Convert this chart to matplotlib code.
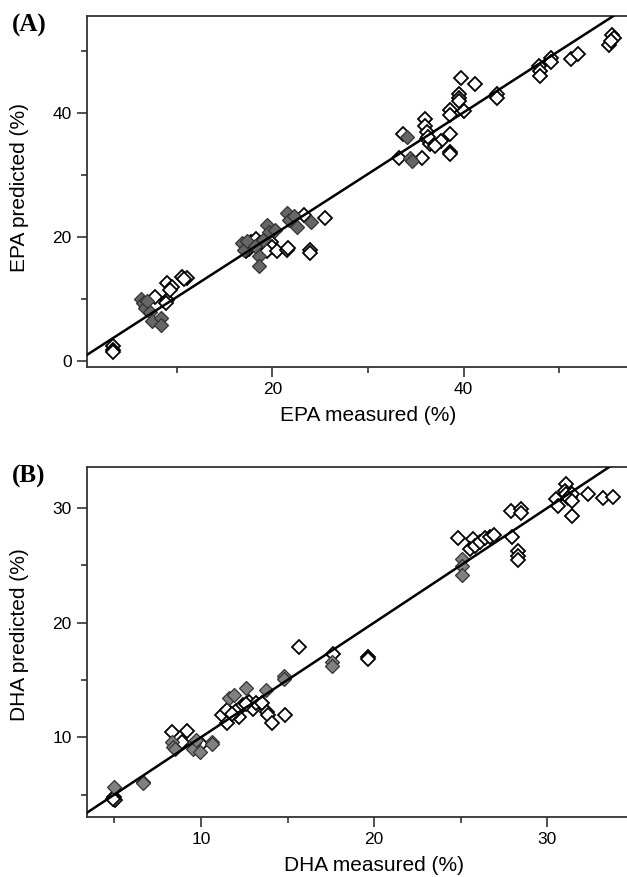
import matplotlib
matplotlib.use("Agg")
import matplotlib.pyplot as plt
import numpy as np

# ---------------- Data ----------------
# Panel A: EPA
epa_gray_x = [6.2, 6.5, 6.7, 7.2, 7.4, 8.3, 8.3, 6.9,
              16.8, 17.0, 17.3, 18.6, 18.6, 18.2, 19.4, 19.6, 20.3, 21.5, 21.7, 22.3, 22.6, 24.0, 19.0,
              34.35, 34.6, 34.1]
epa_gray_y = [10.0, 9.3, 8.5, 7.8, 6.3, 6.8, 5.8, 9.6,
              18.9, 17.9, 19.3, 16.8, 15.3, 18.5, 21.9, 20.8, 21.1, 23.8, 22.7, 23.3, 21.6, 22.4, 19.5,
              32.7, 32.2, 36.0]
epa_open_x = [3.3, 3.3, 3.3,
              7.75, 9.0, 8.9, 9.0, 9.5, 9.3, 10.5, 11.05, 10.8,
              17.5, 17.8, 18.05, 18.3, 18.7, 19.2, 19.5, 19.8, 20.0, 19.4, 20.5, 21.5, 21.6, 23.3, 25.5, 23.9, 23.9, 17.2,
              33.2, 35.6, 33.7, 36.0, 36.0, 36.2, 36.2, 36.5, 37.6, 38.6, 38.6, 38.6, 37.0, 36.3,
              38.6, 38.6, 40.0, 39.5, 39.5, 39.5, 39.7, 41.2, 43.5, 43.5,
              47.85, 48.0, 48.0, 49.1, 49.1, 51.2, 52.0, 55.2, 55.5, 55.7, 55.4]
epa_open_y = [2.3, 1.7, 1.4,
              10.3, 9.8, 9.2, 12.5, 11.9, 11.3, 13.5, 13.3, 13.1,
              18.0, 19.2, 18.9, 19.6, 19.0, 18.6, 18.0, 19.2, 18.3, 17.7, 17.7, 17.9, 18.1, 23.5, 23.0, 17.9, 17.4, 17.6,
              32.7, 32.7, 36.5, 38.9, 37.9, 36.8, 35.7, 34.9, 35.4, 36.5, 33.7, 33.3, 34.6, 36.0,
              40.5, 39.7, 40.3, 43.0, 42.4, 41.9, 45.6, 44.6, 43.0, 42.4,
              47.5, 46.7, 45.9, 48.9, 48.1, 48.6, 49.4, 51.0, 52.6, 52.1, 51.5]
epa_fit = [0.993, 0.32]  # slope, intercept

# Panel B: DHA
dha_gray_x = [4.97, 6.66, 6.66, 8.33, 8.4, 8.5, 9.58, 9.55, 9.93, 9.7, 10.64, 10.64,
              11.6, 11.9, 12.6, 13.78, 14.78, 14.78,
              17.57, 17.57,
              25.06, 25.06, 25.06]
dha_gray_y = [5.69, 6.13, 6.0, 9.62, 9.18, 9.0, 9.47, 9.0, 8.75, 9.76, 9.6, 9.4,
              13.4, 13.7, 14.3, 14.1, 15.35, 15.05,
              16.6, 16.2,
              25.53, 24.95, 24.14]
dha_open_x = [5.0, 5.05, 4.95,
              8.33, 9.2, 8.9, 10.0,
              11.2, 11.5, 11.5, 12.2, 12.0, 12.4, 12.8, 13.0, 13.2, 13.5, 13.8, 13.85, 14.1, 14.87, 11.8, 12.6,
              15.65, 17.6, 19.65, 19.65,
              24.86, 25.73, 25.54, 25.83, 26.1, 26.4, 26.7, 26.9,
              27.9, 28.5, 28.5, 27.95, 28.3, 28.3, 28.3,
              31.1, 31.0, 31.1, 31.3, 31.4, 31.2, 30.5, 30.6, 31.4, 31.4, 32.37, 33.2, 33.8]
dha_open_y = [4.82, 4.53, 4.6,
              10.5, 10.58, 9.6, 9.4,
              11.94, 12.38, 11.2, 11.8, 12.3, 12.8, 13.1, 12.5, 13.0, 13.0, 12.2, 11.95, 11.2, 11.95, 12.0, 12.9,
              17.85, 17.27, 17.03, 16.8,
              27.36, 27.28, 26.4, 26.7, 27.04, 27.4, 27.5, 27.6,
              29.75, 29.9, 29.6, 27.5, 26.26, 25.8, 25.5,
              32.08, 31.5, 31.2, 31.0, 31.2, 30.9, 30.77, 30.18, 29.3, 30.6, 31.2, 30.9, 31.0]
dha_fit = [1.0, 0.0]

# ---------------- Figure ----------------
W, H = 627, 877
fig = plt.figure(figsize=(W / 100, H / 100), dpi=100)
plt.rcParams['font.family'] = ['Liberation Sans', 'DejaVu Sans']

def px_axes(left, top, right, bottom):
    return fig.add_axes([left / W, 1 - bottom / H, (right - left) / W, (bottom - top) / H])

axA = px_axes(87, 16, 627, 366.7)
axB = px_axes(87, 466.7, 627, 816.7)

def style(ax, xlim, ylim, major, minor, xlabel, ylabel, xlab_x, ylab_y):
    ax.set_xlim(*xlim)
    ax.set_ylim(*ylim)
    ax.set_xticks(major[0]); ax.set_xticks(minor[0], minor=True)
    ax.set_yticks(major[1]); ax.set_yticks(minor[1], minor=True)
    ax.tick_params(which='major', length=7, width=1.2, direction='out', labelsize=12.5,
                   pad=4, color='#333333')
    ax.tick_params(which='minor', length=4.5, width=1.2, direction='out', color='#333333')
    for s in ['left', 'bottom', 'top']:
        ax.spines[s].set_linewidth(1.3)
        ax.spines[s].set_color('#333333')
    ax.spines['right'].set_visible(False)
    ax.set_xlabel(xlabel, fontsize=15)
    ax.set_ylabel(ylabel, fontsize=15)
    ax.xaxis.set_label_coords(xlab_x, -0.112)
    ax.yaxis.set_label_coords(-0.108, ylab_y)

ms = 7.3
# Panel A
axA.plot(epa_open_x, epa_open_y, 'D', ms=ms, mfc='white', mec='black', mew=1.3, ls='none', zorder=2)
axA.plot(epa_gray_x, epa_gray_y, 'D', ms=ms, mfc='#666666', mec='#333333', mew=0.9, ls='none', zorder=2.5)
axA.axline((0, epa_fit[1]), slope=epa_fit[0], color='black', lw=1.8, zorder=3)
style(axA, (0.6, 57.1), (-1.0, 55.6), ([20, 40], [0, 20, 40]), ([10, 30, 50], [10, 30, 50]),
      'EPA measured (%)', 'EPA predicted (%)', 0.52, 0.51)

# Panel B
axB.plot(dha_open_x, dha_open_y, 'D', ms=ms, mfc='white', mec='black', mew=1.3, ls='none', zorder=2)
axB.plot(dha_gray_x, dha_gray_y, 'D', ms=ms, mfc='#808080', mec='#333333', mew=0.9, ls='none', zorder=2.5)
axB.axline((0, dha_fit[1]), slope=dha_fit[0], color='black', lw=1.8, zorder=3)
style(axB, (3.42, 34.6), (3.07, 33.6), ([10, 20, 30], [10, 20, 30]), ([5, 15, 25], [5, 15, 25]),
      'DHA measured (%)', 'DHA predicted (%)', 0.531, 0.52)

fig.text(12 / W, 1 - 25 / H, '(A)', fontsize=18, fontweight='bold', family='Liberation Serif',
         ha='left', va='center')
fig.text(12 / W, 1 - 476 / H, '(B)', fontsize=18, fontweight='bold', family='Liberation Serif',
         ha='left', va='center')

fig.savefig('out.png', dpi=100)
